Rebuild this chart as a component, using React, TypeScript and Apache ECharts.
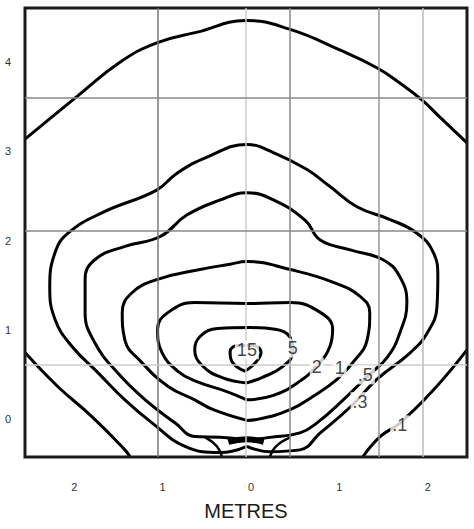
import React, { useEffect, useRef } from "react";
import * as echarts from "echarts";

// Contour levels (x, y in metres)
const level01Top: number[][] = [
  [-2.5, 3.03], [-1.91, 3.51], [-1.43, 3.89], [-1.01, 4.11], [-0.55, 4.23], [0, 4.36],
  [0.5, 4.26], [1.06, 4.03], [1.48, 3.83], [1.74, 3.66], [1.99, 3.47], [2.19, 3.28], [2.5, 2.99],
];
const level01Left: number[][] = [
  [-2.5, 0.64], [-2.13, 0.26], [-1.74, -0.08], [-1.37, -0.45], [-1.31, -0.53],
];
const level01Right: number[][] = [
  [1.32, -0.53], [1.52, -0.3], [1.74, -0.15], [2.12, 0.22], [2.5, 0.67],
];
const level03: number[][] = [
  [0.01, -0.41], [-0.29, -0.48], [-0.69, -0.41], [-1.06, -0.15], [-1.37, 0.11], [-1.67, 0.41],
  [-1.97, 0.71], [-2.16, 1.01], [-2.22, 1.38], [-2.16, 1.76], [-2.01, 1.98], [-1.62, 2.21],
  [-1.01, 2.46], [-0.78, 2.65], [-0.44, 2.83], [0.01, 2.97], [0.31, 2.88], [0.69, 2.69],
  [0.95, 2.5], [1.26, 2.27], [1.63, 2.13], [1.93, 1.98], [2.12, 1.76], [2.17, 1.49],
  [2.16, 1.15], [2.05, 0.86], [1.86, 0.64], [1.48, 0.34], [1.18, 0.03], [0.84, -0.26],
  [0.61, -0.45], [0.27, -0.47], [0.01, -0.41],
];
const level05: number[][] = [
  [0.01, -0.34], [-0.29, -0.31], [-0.58, -0.3], [-0.8, -0.15], [-1.14, 0.11], [-1.45, 0.41],
  [-1.71, 0.75], [-1.82, 1.09], [-1.82, 1.46], [-1.71, 1.68], [-1.37, 1.83], [-0.97, 1.94],
  [-0.67, 2.18], [-0.29, 2.35], [0.01, 2.43], [0.31, 2.35], [0.67, 2.12], [0.84, 1.9],
  [1.18, 1.79], [1.55, 1.68], [1.74, 1.49], [1.82, 1.2], [1.74, 0.86], [1.6, 0.59],
  [1.37, 0.37], [1.1, 0.11], [0.8, -0.15], [0.61, -0.26], [0.27, -0.31], [0.01, -0.34],
];
const level1: number[][] = [
  [0.01, -0.12], [-0.37, 0.0], [-0.58, 0.11], [-0.88, 0.26], [-1.18, 0.53], [-1.37, 0.78],
  [-1.4, 1.09], [-1.29, 1.31], [-1.0, 1.46], [-0.52, 1.57], [-0.18, 1.63], [0.01, 1.66],
  [0.5, 1.57], [0.98, 1.43], [1.29, 1.27], [1.4, 1.09], [1.37, 0.78], [1.21, 0.53],
  [1.03, 0.34], [0.76, 0.15], [0.5, 0.0], [0.12, -0.11], [0.01, -0.12],
];
const level2: number[][] = [
  [0.01, 0.11], [-0.21, 0.2], [-0.57, 0.32], [-0.77, 0.43], [-0.95, 0.64], [-1.0, 0.9],
  [-0.88, 1.09], [-0.58, 1.2], [0.01, 1.19], [0.5, 1.2], [0.84, 1.09], [0.98, 0.9],
  [0.95, 0.71], [0.81, 0.5], [0.61, 0.32], [0.31, 0.16], [0.01, 0.11],
];
const level5: number[][] = [
  [0.01, 0.3], [-0.27, 0.36], [-0.49, 0.49], [-0.58, 0.67], [-0.52, 0.82], [-0.32, 0.91],
  [0.05, 0.92], [0.33, 0.9], [0.5, 0.81], [0.53, 0.65], [0.41, 0.48], [0.18, 0.36], [0.01, 0.3],
];
const level15: number[][] = [
  [-0.01, 0.43], [-0.16, 0.54], [-0.18, 0.65], [-0.09, 0.72], [0.07, 0.72], [0.17, 0.64],
  [0.11, 0.53], [-0.01, 0.43],
];
const knotCentre: number[][] = [[-0.2, -0.36], [0.0, -0.33], [0.2, -0.36]];
const tailLeft: number[][] = [[-0.46, -0.31], [-0.33, -0.41], [-0.27, -0.53]];
const tailRight: number[][] = [[0.5, -0.31], [0.34, -0.41], [0.27, -0.53]];

// Contour labels
const labelNames = ["15", "5", "2", "1", ".5", ".3", ".1"];
const labelX = [0.01, 0.53, 0.8, 1.06, 1.35, 1.29, 1.74];
const labelY = [0.67, 0.69, 0.48, 0.47, 0.39, 0.09, -0.17];

// Ticks and grid
const xTicks = [-2, -1, 0, 1, 2];
const yTicks = [0, 1, 2, 3, 4];
const xGrid = [-1, 0, 0.5, 1.5, 2];
const xGridColors = ["#777", "#ccc", "#888", "#999", "#bbb"];
const yGrid = [3.5, 2, 0.5];
const yGridColors = ["#888", "#888", "#ccc"];

export default function App() {
  const ref = useRef<HTMLDivElement>(null);
  useEffect(() => {
    if (!ref.current) return;
    const chart = echarts.init(ref.current, undefined, { renderer: "svg" });
    const contour = (data: number[][], width = 3) => ({
      type: "line",
      data,
      smooth: 0.45,
      showSymbol: false,
      symbol: "none",
      silent: true,
      z: 3,
      lineStyle: { color: "#000", width },
    });
    const gridMarks = [
      ...xGrid.map((v, i) => ({ xAxis: v, lineStyle: { color: xGridColors[i], width: 1.5, type: "solid" } })),
      ...yGrid.map((v, i) => ({ yAxis: v, lineStyle: { color: yGridColors[i], width: 1.5, type: "solid" } })),
    ];
    chart.setOption({
      animation: false,
      backgroundColor: "#fff",
      grid: {
        left: 25,
        right: 7,
        top: 8,
        bottom: 72,
        show: true,
        borderColor: "#1a1a1a",
        borderWidth: 3,
        z: 5,
      },
      xAxis: {
        type: "value",
        min: -2.5,
        max: 2.5,
        axisLine: { show: false },
        axisTick: { show: false },
        splitLine: { show: false },
        axisLabel: {
          customValues: xTicks,
          formatter: (v: number) => String(Math.abs(v)),
          fontSize: 11,
          color: "#333",
          margin: 24,
          padding: [0, 0, 0, 10],
          fontFamily: "Liberation Sans",
        },
        name: "METRES",
        nameLocation: "middle",
        nameGap: 44,
        nameTextStyle: { fontSize: 20, color: "#1a1a1a", fontFamily: "Liberation Sans" },
      },
      yAxis: {
        type: "value",
        min: -0.53,
        max: 4.5,
        axisLine: { show: false },
        axisTick: { show: false },
        splitLine: { show: false },
        axisLabel: {
          customValues: yTicks,
          fontSize: 11,
          color: "#333",
          margin: 14,
          verticalAlign: "top",
          padding: [4, 0, 0, 0],
          fontFamily: "Liberation Sans",
        },
      },
      series: [
        {
          type: "line",
          data: [],
          silent: true,
          z: 1,
          markLine: {
            silent: true,
            symbol: ["none", "none"],
            label: { show: false },
            animation: false,
            data: gridMarks,
          },
        },
        contour(level01Top),
        contour(level01Left),
        contour(level01Right),
        contour(level03),
        contour(level05),
        contour(level1),
        contour(level2),
        contour(level5),
        contour(level15),
        contour(knotCentre, 6),
        contour(tailLeft, 2.5),
        contour(tailRight, 2.5),
        {
          type: "scatter",
          symbolSize: 0,
          silent: true,
          z: 20,
          data: labelNames.map((n, i) => ({ name: n, value: [labelX[i], labelY[i]] })),
          label: {
            show: true,
            position: "inside",
            formatter: "{b}",
            fontSize: 18,
            color: "#111",
            fontFamily: "Liberation Sans",
            backgroundColor: "#fff",
            padding: [1, 2, 0, 2],
          },
        },
      ],
    });
    return () => chart.dispose();
  }, []);
  return (
    <div
      ref={ref}
      style={{ position: "fixed", left: 0, top: 0, width: 474, height: 529 }}
    />
  );
}
